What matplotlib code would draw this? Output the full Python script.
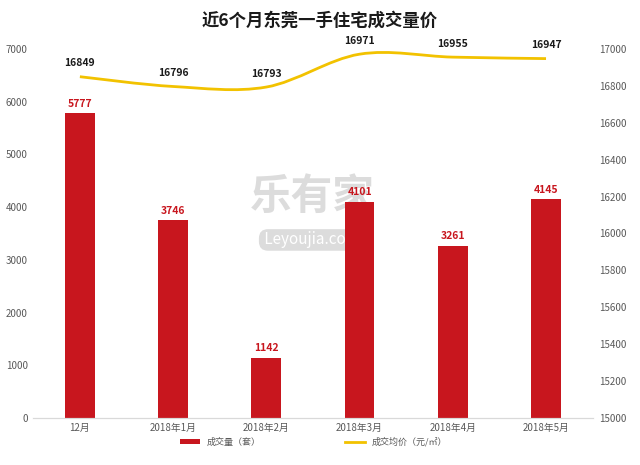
import numpy as np
import matplotlib
matplotlib.use('Agg')
import matplotlib.pyplot as plt
from matplotlib.path import Path
from matplotlib.patches import PathPatch, Patch
from matplotlib.lines import Line2D

plt.rcParams['font.family'] = ['Noto Sans CJK SC', 'DejaVu Sans']

months = ['12月', '2018年1月', '2018年2月', '2018年3月', '2018年4月', '2018年5月']
volume = [5777, 3746, 1142, 4101, 3261, 4145]
price = [16849, 16796, 16793, 16971, 16955, 16947]

bar_color = '#c8161e'
line_color = '#f2c200'
tick_color = '#595959'

fig = plt.figure(figsize=(6.4, 4.65), dpi=100)
ax = fig.add_axes([0.052, 0.101, 0.874, 0.794])
ax2 = ax.twinx()
ax.patch.set_alpha(0)
ax2.patch.set_alpha(0)

# watermark, behind the axes
fig.text(0.488, 0.576, '乐有家', ha='center', va='center', fontsize=30,
         fontweight='bold', color='#dcdcdc', zorder=-1)
fig.text(0.488, 0.484, ' Leyoujia.com ', ha='center', va='center', fontsize=11,
         color='white', zorder=-1,
         bbox=dict(boxstyle='round,pad=0.15,rounding_size=0.6', fc='#dcdcdc', ec='none'))

x = np.arange(len(months))
ax.bar(x, volume, width=0.32, color=bar_color, zorder=2)
for xi, v in zip(x, volume):
    ax.text(xi, v + 90, str(v), ha='center', va='bottom', color=bar_color,
            fontsize=7.5, fontweight='bold')

ax.set_xlim(-0.5, len(months) - 0.5)
ax.set_ylim(0, 7000)
ax.set_yticks(range(0, 7001, 1000))
ax.set_xticks(x)
ax.set_xticklabels(months)
ax2.set_ylim(15000, 17000)
ax2.set_yticks(range(15000, 17001, 200))

for a in (ax, ax2):
    for s in ['top', 'left', 'right']:
        a.spines[s].set_visible(False)
    a.spines['bottom'].set_color('#d9d9d9')
    a.tick_params(length=0, labelsize=7, colors=tick_color)
ax.tick_params(axis='y', pad=4)
ax2.tick_params(axis='y', pad=5)

# smooth line through the points (cubic bezier, catmull-rom style)
pts = np.column_stack([x, price]).astype(float)
verts = [tuple(pts[0])]
codes = [Path.MOVETO]
for i in range(len(pts) - 1):
    p0 = pts[i - 1] if i > 0 else pts[i]
    p1 = pts[i]
    p2 = pts[i + 1]
    p3 = pts[i + 2] if i + 2 < len(pts) else pts[i + 1]
    c1 = p1 + (p2 - p0) / 6.0
    c2 = p2 - (p3 - p1) / 6.0
    verts += [tuple(c1), tuple(c2), tuple(p2)]
    codes += [Path.CURVE4] * 3
ax2.add_patch(PathPatch(Path(verts, codes), facecolor='none', edgecolor=line_color,
                        lw=2, zorder=3))
for xi, p in zip(x, price):
    ax2.text(xi, p + 45, str(p), ha='center', va='bottom', color='#1a1a1a',
             fontsize=7.5, fontweight='bold')

fig.suptitle('近6个月东莞一手住宅成交量价', x=0.5, y=0.975, fontsize=12.5,
             fontweight='bold', color='#1a1a1a')

handles = [Patch(facecolor=bar_color, label='成交量（套）'),
           Line2D([0], [0], color=line_color, lw=2, label='成交均价（元/㎡）')]
fig.legend(handles=handles, loc='center', bbox_to_anchor=(0.49, 0.05), ncol=2,
           frameon=False, fontsize=6.5, handlelength=2.2, handleheight=0.5,
           columnspacing=9.3, labelcolor=tick_color)

fig.savefig('out.png', dpi=100)
